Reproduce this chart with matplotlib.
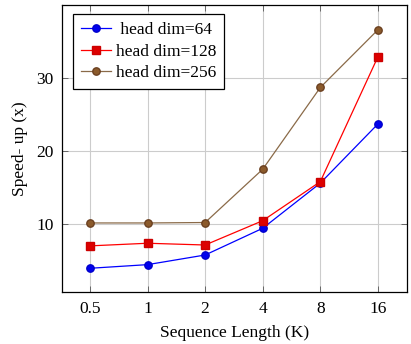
import numpy as np
import matplotlib
matplotlib.use("Agg")
import matplotlib.pyplot as plt

plt.rcParams.update({
    "font.family": ["Liberation Serif", "DejaVu Serif"],
    "font.size": 12.5,
    "mathtext.fontset": "stix",
})

seq_labels = ["0.5", "1", "2", "4", "8", "16"]
dim64 = [3.93, 4.43, 5.75, 9.41, 15.6, 23.7]
dim128 = [7.0, 7.36, 7.12, 10.45, 15.8, 32.9]
dim256 = [10.14, 10.14, 10.2, 17.5, 28.7, 36.6]

x = np.arange(len(seq_labels))

fig = plt.figure(figsize=(4.11, 3.44), dpi=100)
ax = fig.add_axes([61.7 / 411, 1 - 292.3 / 344, 345 / 411, 287 / 344])

ax.plot(x, dim64, color="#0000ff", lw=0.9, marker="o", ms=5.3,
        mfc="#0000ee", mec="#0000cc", label=" head dim=64")
ax.plot(x, dim128, color="#ff0000", lw=0.9, marker="s", ms=5.8,
        mfc="#dd0000", mec="#cc0000", label="head dim=128")
ax.plot(x, dim256, color="#8a6a48", lw=0.9, marker="o", ms=5.3,
        mfc="#8b5a2b", mec="#6b4020", label="head dim=256")

ax.set_xlim(-0.49, 5.5)
ax.set_ylim(0.64, 39.96)
ax.set_xticks(x)
ax.set_xticklabels(seq_labels)
ax.set_yticks([10, 20, 30])
ax.grid(True, color="#cccccc", lw=0.8)
ax.set_axisbelow(True)
ax.tick_params(direction="in", length=4, width=0.6, top=True, right=True,
               color="#555555", pad=6)
for s in ax.spines.values():
    s.set_linewidth(0.9)

ax.set_xlabel("Sequence Length (K)", labelpad=6)
ax.set_ylabel("Speed- up (x)", labelpad=6)

leg = ax.legend(loc="upper left", bbox_to_anchor=(0.032, 0.969), fancybox=False,
                framealpha=1, edgecolor="black", borderpad=0.45, handlelength=1.75,
                handletextpad=0.3, labelspacing=0.31, borderaxespad=0)
leg.get_frame().set_linewidth(0.9)

fig.savefig("out.png", dpi=100)
